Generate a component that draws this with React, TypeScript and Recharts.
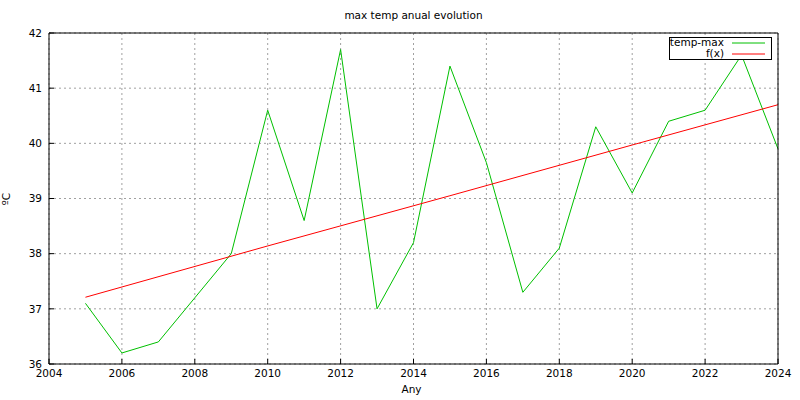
import React from 'react';
import { LineChart, Line, XAxis, YAxis, CartesianGrid, Legend } from 'recharts';

const years = [2005, 2006, 2007, 2008, 2009, 2010, 2011, 2012, 2013, 2014, 2015, 2016, 2017, 2018, 2019, 2020, 2021, 2022, 2023, 2024];
const tempMax = [37.1, 36.2, 36.4, 37.2, 38.0, 40.6, 38.6, 41.7, 37.0, 38.2, 41.4, 39.65, 37.3, 38.1, 40.3, 39.1, 40.4, 40.6, 41.6, 39.9];
const fitYears = [2005, 2010, 2015, 2020, 2024];
const fitValues = [37.21, 38.14, 39.05, 39.97, 40.7];
const xTicks = [2004, 2006, 2008, 2010, 2012, 2014, 2016, 2018, 2020, 2022, 2024];
const yTicks = [36, 37, 38, 39, 40, 41, 42];

const tempData = years.map((y, i) => ({ year: y, value: tempMax[i] }));
const fitData = fitYears.map((y, i) => ({ year: y, value: fitValues[i] }));

const FONT = '"DejaVu Sans", sans-serif';
const FS = 10.5;
const GREEN = '#00c000';
const RED = '#ff0000';

const legendContent = () => (
  <svg width={104} height={24} style={{ display: 'block', overflow: 'visible' }}>
    <rect x={0.5} y={0.5} width={102} height={22} fill="#fff" stroke="#000" strokeWidth={1} />
    <text x={55} y={9} textAnchor="end" fontFamily={FONT} fontSize={FS} fill="#000">temp-max</text>
    <line x1={63} x2={96} y1={6} y2={6} stroke={GREEN} strokeWidth={1} />
    <text x={55} y={20} textAnchor="end" fontFamily={FONT} fontSize={FS} fill="#000">f(x)</text>
    <line x1={63} x2={96} y1={17} y2={17} stroke={RED} strokeWidth={1} />
  </svg>
);

export default function App() {
  return (
    <div style={{ position: 'absolute', left: 0, top: 0, width: 800, height: 400, background: '#fff' }}>
      <div
        style={{
          position: 'absolute',
          left: 49,
          width: 729,
          top: 8,
          textAlign: 'center',
          fontFamily: FONT,
          fontSize: FS,
          color: '#000',
          lineHeight: '14px',
        }}
      >
        max temp anual evolution
      </div>
      <LineChart
        width={800}
        height={400}
        margin={{ top: 32, right: 21, bottom: 6, left: 9 }}
        style={{ fontFamily: FONT }}
      >
        <CartesianGrid stroke="#a0a0a0" strokeDasharray="2 3" />
        <XAxis
          dataKey="year"
          type="number"
          domain={[2004, 2024]}
          ticks={xTicks}
          allowDataOverflow
          height={30}
          stroke="#000"
          tickSize={-5}
          tickMargin={10.5}
          tick={{ fill: '#000', fontSize: FS, fontFamily: FONT }}
          label={{
            content: (p: any) => (
              <text
                x={p.viewBox.x + p.viewBox.width / 2 - 2}
                y={p.viewBox.y + 29}
                textAnchor="middle"
                fontFamily={FONT}
                fontSize={FS}
                fill="#000"
              >
                Any
              </text>
            ),
          }}
        />
        <XAxis
          xAxisId="top"
          orientation="top"
          dataKey="year"
          type="number"
          domain={[2004, 2024]}
          ticks={xTicks}
          height={1}
          stroke="#000"
          tickSize={-5}
          tick={false}
        />
        <YAxis
          type="number"
          domain={[36, 42]}
          ticks={yTicks}
          width={40}
          stroke="#000"
          tickSize={-5}
          tickMargin={12}
          tick={{ fill: '#000', fontSize: FS, fontFamily: FONT }}
          label={{
            content: (p: any) => {
              const cx = 10;
              const cy = p.viewBox.y + p.viewBox.height / 2 + 0.5;
              return (
                <text
                  x={cx}
                  y={cy}
                  textAnchor="middle"
                  transform={`rotate(-90, ${cx}, ${cy})`}
                  fontFamily={FONT}
                  fontSize={FS}
                  fill="#000"
                >
                  ºC
                </text>
              );
            },
          }}
        />
        <YAxis
          yAxisId="right"
          orientation="right"
          type="number"
          domain={[36, 42]}
          ticks={yTicks}
          width={1}
          stroke="#000"
          tickSize={-5}
          tick={false}
        />
        <Legend
          layout="vertical"
          align="center"
          verticalAlign="middle"
          content={legendContent}
          wrapperStyle={{ position: 'absolute', left: 669, top: 37, width: 104, height: 24 }}
        />
        <Line
          data={tempData}
          dataKey="value"
          name="temp-max"
          type="linear"
          stroke={GREEN}
          strokeWidth={1}
          dot={false}
          isAnimationActive={false}
        />
        <Line
          data={fitData}
          dataKey="value"
          name="f(x)"
          type="linear"
          stroke={RED}
          strokeWidth={1}
          dot={false}
          isAnimationActive={false}
        />
      </LineChart>
    </div>
  );
}
